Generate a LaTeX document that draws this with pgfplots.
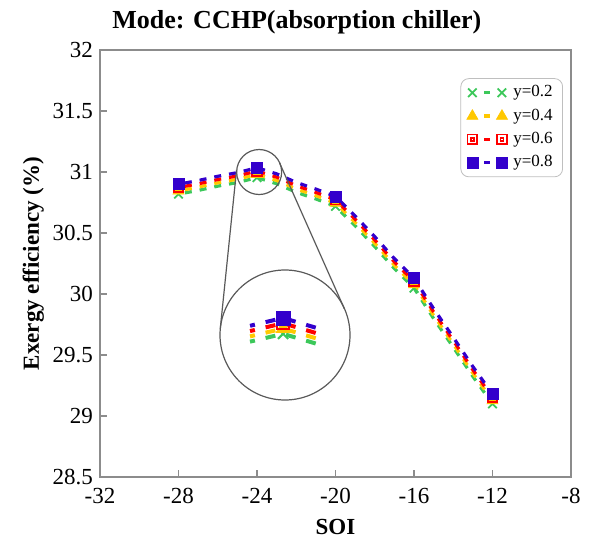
\documentclass[border=0pt]{standalone}
\usepackage{fontspec}
\setmainfont{Liberation Serif}
\usepackage{pgfplots}
\pgfplotsset{compat=1.18}
\usepackage{pgfplotstable}

\definecolor{cG}{RGB}{60,200,90}
\definecolor{cY}{RGB}{255,200,0}
\definecolor{cR}{RGB}{255,0,0}
\definecolor{cB}{RGB}{51,0,204}

\pgfdeclareplotmark{dsquare}{%
  \pgfpathrectangle{\pgfpoint{-\pgfplotmarksize}{-\pgfplotmarksize}}{\pgfpoint{2\pgfplotmarksize}{2\pgfplotmarksize}}%
  \pgfpathrectangle{\pgfpoint{-.3\pgfplotmarksize}{-.3\pgfplotmarksize}}{\pgfpoint{.6\pgfplotmarksize}{.6\pgfplotmarksize}}%
  \pgfusepathqstroke}

\pgfplotstableread{
x    g      yl     r      b
-28  30.819 30.846 30.873 30.900
-27  30.849 30.876 30.903 30.930
-26  30.884 30.911 30.938 30.965
-25  30.914 30.941 30.968 30.995
-24  30.954 30.981 31.008 31.035
-23  30.904 30.931 30.958 30.985
-22  30.834 30.861 30.888 30.915
-21  30.779 30.806 30.833 30.860
-20  30.719 30.746 30.773 30.800
-19  30.559 30.586 30.613 30.640
-18  30.389 30.416 30.443 30.470
-17  30.209 30.236 30.263 30.290
-16  30.049 30.076 30.103 30.130
-15  29.799 29.826 29.853 29.880
-14  29.564 29.591 29.618 29.645
-13  29.324 29.351 29.378 29.405
-12  29.099 29.126 29.153 29.180
}\datatable

\pgfplotstableread{
x    g      yl     r      b
-25  30.914 30.941 30.968 30.995
-24  30.954 30.981 31.008 31.035
-23  30.904 30.931 30.958 30.985
}\insettable

\begin{document}
\begin{tikzpicture}
\begin{axis}[
  width=235.5pt, height=213.5pt, scale only axis,
  xmin=-32, xmax=-8, ymin=28.5, ymax=32,
  xtick={-32,-28,-24,-20,-16,-12,-8},
  ytick={28.5,29,29.5,30,30.5,31,31.5,32},
  axis line style={draw=black!45, line width=0.6pt},
  tick style={draw=black!45, line width=0.6pt},
  tick align=inside, xtick pos=bottom, ytick pos=left,
  major tick length=3.5pt,
  tick label style={font=\fontsize{11.5}{13}\selectfont},
  xticklabel style={yshift=-2pt},
  /pgf/number format/assume math mode=true,
  title={\fontsize{13}{15}\selectfont\bfseries Mode: CCHP(absorption chiller)},
  title style={at={(axis description cs:0.418,1)}, anchor=base, yshift=5pt, inner sep=0pt},
  xlabel={\fontsize{11.5}{13}\selectfont\bfseries SOI},
  xlabel style={at={(axis description cs:0.5,-0.1358)}, anchor=base, inner sep=0pt},
  ylabel={\fontsize{11.5}{13}\selectfont\bfseries Exergy efficiency (\%)},
  ylabel style={at={(axis description cs:-0.13,0.5)}, anchor=base, inner sep=0pt},
  legend style={at={(axis description cs:0.983,0.934)}, anchor=north east,
    draw=black!25, rounded corners=4pt, font=\fontsize{8.5}{10}\selectfont,
    row sep=0.5pt, inner xsep=3pt, inner ysep=1.5pt, cells={anchor=west}},
  legend image code/.code={
    \draw[#1, mark=none, solid] (0.21cm,0cm) -- (0.31cm,0cm);
    \draw[#1, only marks, mark repeat=1, mark phase=1] plot coordinates {(0cm,0cm) (0.52cm,0cm)};
    \path (0.62cm,0cm);
  },
]
\addplot[cG, line width=1.6pt, dash pattern=on 3.5pt off 4pt, dash phase=4.25pt,
  mark=x, mark size=3pt, mark repeat=4, mark options={solid, line width=0.9pt}]
  table[x=x,y=g]{\datatable};
\addlegendentry{y=0.2}
\addplot[cY, line width=1.6pt, dash pattern=on 3.5pt off 4pt, dash phase=4.25pt,
  mark=triangle*, mark size=3.2pt, mark repeat=4, mark options={solid, line width=0.3pt}]
  table[x=x,y=yl]{\datatable};
\addlegendentry{y=0.4}
\addplot[cR, line width=1.6pt, dash pattern=on 3.5pt off 4pt, dash phase=4.25pt,
  mark=dsquare, mark size=2.4pt, mark repeat=4, mark options={solid, line width=0.9pt}]
  table[x=x,y=r]{\datatable};
\addlegendentry{y=0.6}
\addplot[cB, line width=1.6pt, dash pattern=on 3.5pt off 4pt, dash phase=4.25pt,
  mark=square*, mark size=2.75pt, mark repeat=4, mark options={solid, line width=0.3pt}]
  table[x=x,y=b]{\datatable};
\addlegendentry{y=0.8}

\draw[black!65, line width=0.6pt] (axis cs:-23.89,31.0) circle[radius=11.25pt];
\draw[black!65, line width=0.6pt] (axis cs:-22.573,29.664) circle[radius=32.5pt];
\draw[black!65, line width=0.6pt] (axis cs:-25.04,31.019) -- (axis cs:-25.87,29.718);
\draw[black!65, line width=0.6pt] (axis cs:-22.85,31.075) -- (axis cs:-19.55,29.880);
\coordinate (ic) at (axis cs:-22.573,29.664);
\coordinate (sw) at (rel axis cs:0,0);
\end{axis}

\begin{axis}[at={(ic)}, anchor=center, width=65pt, height=65pt, scale only axis,
  hide axis, clip=false, xmin=-25.91, xmax=-21.97, ymin=30.616, ymax=31.28]
\addplot[cG, line width=2pt, dash pattern=on 5pt off 5.5pt, dash phase=2.5pt,
  mark=x, mark size=3.6pt, mark indices={2}, mark options={solid, line width=1pt}]
  table[x=x,y=g]{\insettable};
\addplot[cY, line width=2pt, dash pattern=on 5pt off 5.5pt, dash phase=2.5pt,
  mark=triangle*, mark size=4pt, mark indices={2}, mark options={solid, line width=0.3pt}]
  table[x=x,y=yl]{\insettable};
\addplot[cR, line width=2pt, dash pattern=on 5pt off 5.5pt, dash phase=2.5pt,
  mark=dsquare, mark size=3pt, mark indices={2}, mark options={solid, line width=1pt}]
  table[x=x,y=r]{\insettable};
\addplot[cB, line width=2pt, dash pattern=on 5pt off 5.5pt, dash phase=2.5pt,
  mark=square*, mark size=3.5pt, mark indices={2}, mark options={solid, line width=0.3pt}]
  table[x=x,y=b]{\insettable};
\end{axis}

\path (sw) ++(-50pt,-30.5pt) rectangle ++(294.5pt,269pt);
\end{tikzpicture}
\end{document}
